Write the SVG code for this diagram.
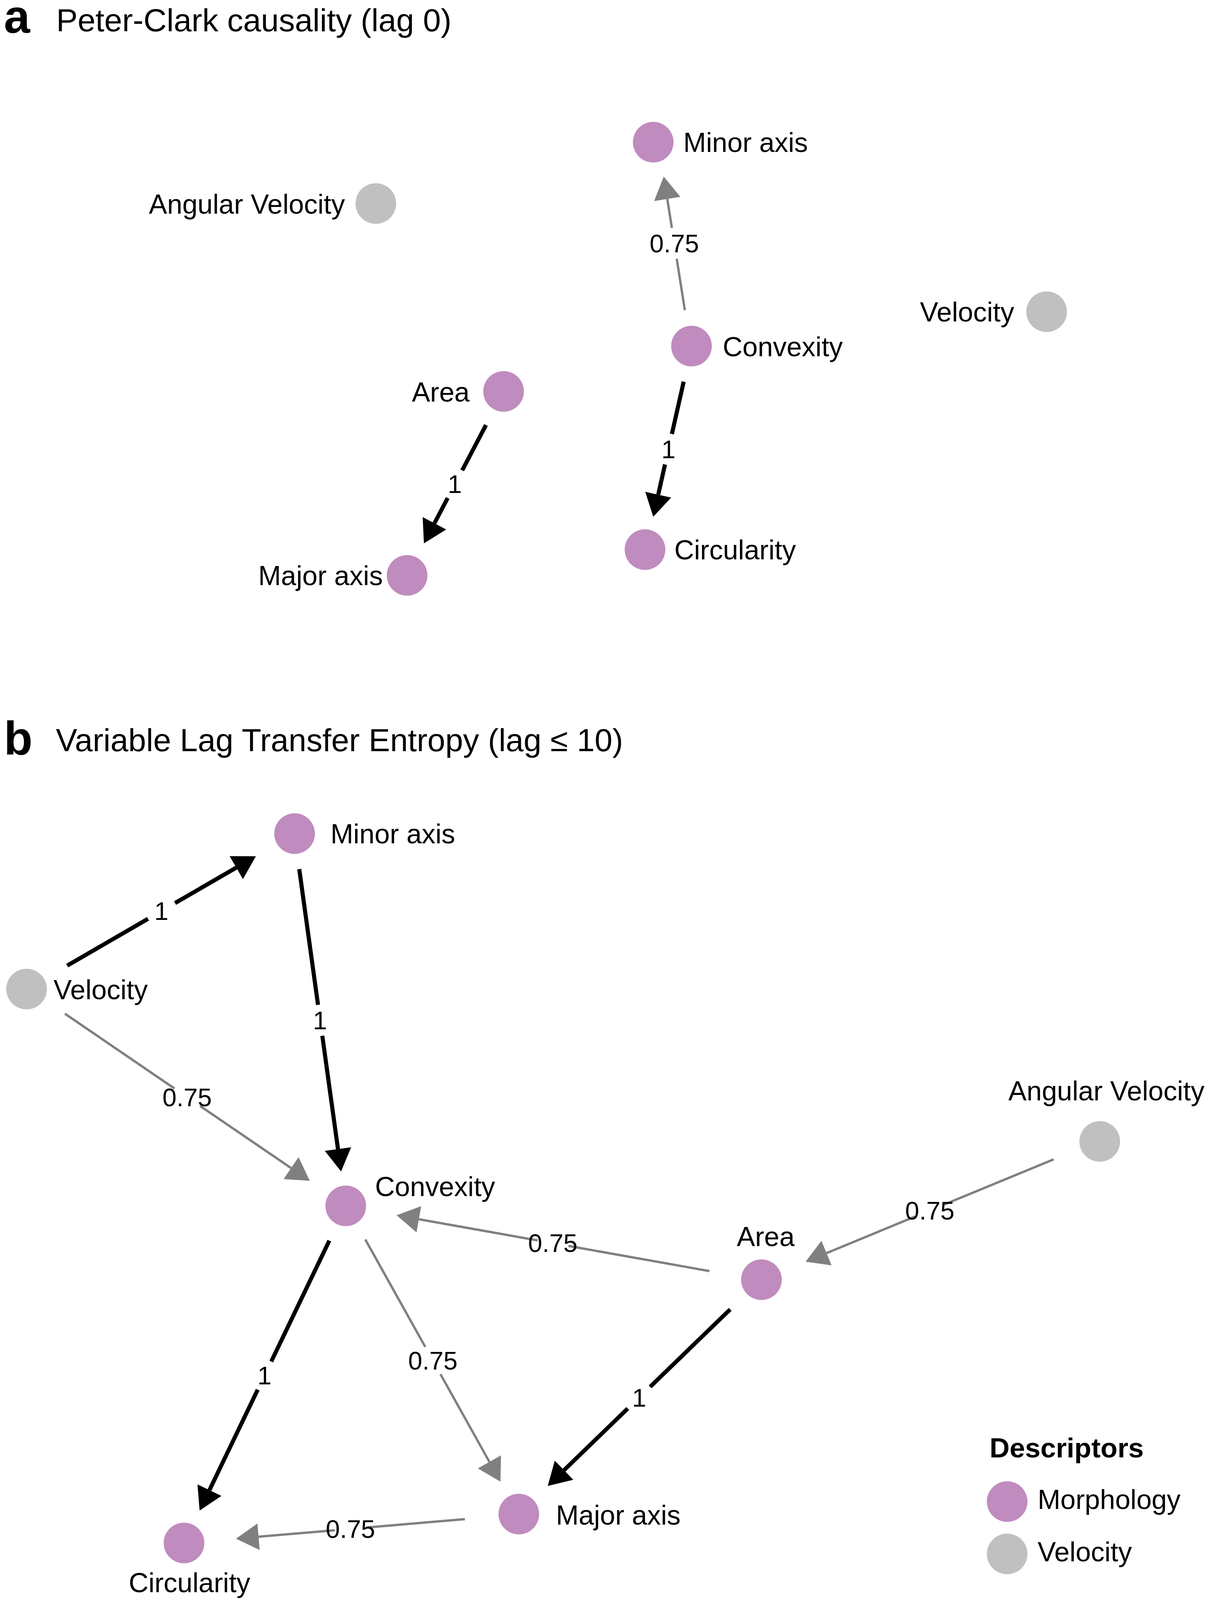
<svg xmlns="http://www.w3.org/2000/svg" width="3110" height="4108" viewBox="0 0 3110 4108">
<style>
text{font-family:"Liberation Sans",Arial,Helvetica,sans-serif;fill:#000}
.panel{font-size:120px;font-weight:bold}
.title{font-size:82px}
.lbl{font-size:70px}
.elbl{font-size:65px;text-anchor:middle}
.morph{fill:#C08BBF}
.vel{fill:#C0C0C0}
.eb{stroke:#000;stroke-width:10.5;fill:none}
.eg{stroke:#808080;stroke-width:6;fill:none}
.legt{font-size:71px;font-weight:bold}
</style>
<defs>
<marker id="ab" markerUnits="userSpaceOnUse" viewBox="0 -35 60 70" refX="0" refY="0" markerWidth="60" markerHeight="70" orient="auto" overflow="visible"><path d="M0,-34 L58,0 L0,34 Z" fill="#000"/></marker>
<marker id="ag" markerUnits="userSpaceOnUse" viewBox="0 -35 60 70" refX="0" refY="0" markerWidth="60" markerHeight="70" orient="auto" overflow="visible"><path d="M0,-34 L58,0 L0,34 Z" fill="#808080"/></marker>
</defs>
<rect width="3110" height="4108" fill="#fff"/>
<text class="panel" x="10" y="84">a</text>
<text class="title" x="144" y="80">Peter-Clark causality (lag 0)</text>
<text class="panel" x="10" y="1932">b</text>
<text class="title" x="143" y="1923">Variable Lag Transfer Entropy (lag ≤ 10)</text>
<g id="connectors">
<path class="eg" d="M1753,794 L1732.2,662.5"/><path class="eg" d="M1719.8,583.5 L1708,509.3" marker-end="url(#ag)"/>
<text class="elbl" x="1726" y="646">0.75</text>
<path class="eb" d="M1750,977 L1719.8,1111"/><path class="eb" d="M1702.2,1189 L1684.8,1266.4" marker-end="url(#ab)"/>
<text class="elbl" x="1711" y="1173">1</text>
<path class="eb" d="M1244,1088 L1183.1,1204.1"/><path class="eb" d="M1145.9,1274.9 L1112,1339.6" marker-end="url(#ab)"/>
<text class="elbl" x="1164" y="1262">1</text>
<path class="eb" d="M172,2472 L378.9,2352.1"/><path class="eb" d="M448.1,2311.9 L604.8,2221.1" marker-end="url(#ab)"/>
<text class="elbl" x="413" y="2355">1</text>
<path class="eb" d="M766,2225 L814,2572.4"/><path class="eb" d="M825,2651.6 L865.1,2941.6" marker-end="url(#ab)"/>
<text class="elbl" x="819" y="2635">1</text>
<path class="eg" d="M166,2595 L446.5,2786.4"/><path class="eg" d="M512.5,2831.6 L745.1,2990.3" marker-end="url(#ag)"/>
<text class="elbl" x="479" y="2832">0.75</text>
<path class="eb" d="M843,3176 L694.3,3485.4"/><path class="eb" d="M659.7,3557.6 L536.1,3814.7" marker-end="url(#ab)"/>
<text class="elbl" x="677" y="3544">1</text>
<path class="eg" d="M935,3173 L1088.5,3448.1"/><path class="eg" d="M1127.5,3517.9 L1252.7,3742.4" marker-end="url(#ag)"/>
<text class="elbl" x="1108" y="3506">0.75</text>
<path class="eg" d="M1190,3889 L936.9,3910.6"/><path class="eg" d="M857.1,3917.4 L661.8,3934.1" marker-end="url(#ag)"/>
<text class="elbl" x="897" y="3937">0.75</text>
<path class="eg" d="M1816,3254 L1454.9,3189.5"/><path class="eg" d="M1376.1,3175.5 L1072.1,3121.2" marker-end="url(#ag)"/>
<text class="elbl" x="1415" y="3205">0.75</text>
<path class="eg" d="M2697,2968 L2416.5,3083.7"/><path class="eg" d="M2342.5,3114.3 L2115.6,3207.9" marker-end="url(#ag)"/>
<text class="elbl" x="2380" y="3122">0.75</text>
<path class="eb" d="M1869,3352 L1664.2,3550.2"/><path class="eb" d="M1606.8,3605.8 L1443.7,3763.7" marker-end="url(#ab)"/>
<text class="elbl" x="1636" y="3601">1</text>
</g>
<g id="a-angular-velocity"><circle class="vel" cx="962" cy="521" r="52"/><text class="lbl" x="883" y="547" text-anchor="end">Angular Velocity</text></g>
<g id="a-minor-axis"><circle class="morph" cx="1672" cy="364" r="52"/><text class="lbl" x="1749" y="389">Minor axis</text></g>
<g id="a-convexity"><circle class="morph" cx="1770" cy="886" r="52"/><text class="lbl" x="1850" y="912">Convexity</text></g>
<g id="a-velocity"><circle class="vel" cx="2679" cy="798" r="52"/><text class="lbl" x="2596" y="823" text-anchor="end">Velocity</text></g>
<g id="a-area"><circle class="morph" cx="1289" cy="1002" r="52"/><text class="lbl" x="1202" y="1028" text-anchor="end">Area</text></g>
<g id="a-major-axis"><circle class="morph" cx="1042" cy="1473" r="52"/><text class="lbl" x="980" y="1498" text-anchor="end">Major axis</text></g>
<g id="a-circularity"><circle class="morph" cx="1651" cy="1407" r="52"/><text class="lbl" x="1726" y="1432">Circularity</text></g>
<g id="b-minor-axis"><circle class="morph" cx="754" cy="2134" r="52"/><text class="lbl" x="846" y="2159">Minor axis</text></g>
<g id="b-velocity"><circle class="vel" cx="68" cy="2532" r="52"/><text class="lbl" x="137" y="2558">Velocity</text></g>
<g id="b-convexity"><circle class="morph" cx="885" cy="3087" r="52"/><text class="lbl" x="960" y="3062">Convexity</text></g>
<g id="b-circularity"><circle class="morph" cx="471" cy="3950" r="52"/><text class="lbl" x="485" y="4076" text-anchor="middle">Circularity</text></g>
<g id="b-major-axis"><circle class="morph" cx="1328" cy="3876" r="52"/><text class="lbl" x="1423" y="3903">Major axis</text></g>
<g id="b-area"><circle class="morph" cx="1949" cy="3276" r="52"/><text class="lbl" x="1960" y="3190" text-anchor="middle">Area</text></g>
<g id="b-angular-velocity"><circle class="vel" cx="2815" cy="2922" r="52"/><text class="lbl" x="2832" y="2817" text-anchor="middle">Angular Velocity</text></g>
<g id="legend">
<text class="legt" x="2533" y="3731">Descriptors</text>
<circle class="morph" cx="2578" cy="3844" r="52"/><text class="lbl" x="2656" y="3863">Morphology</text>
<circle class="vel" cx="2578" cy="3978" r="52"/><text class="lbl" x="2656" y="3997">Velocity</text>
</g>
</svg>
